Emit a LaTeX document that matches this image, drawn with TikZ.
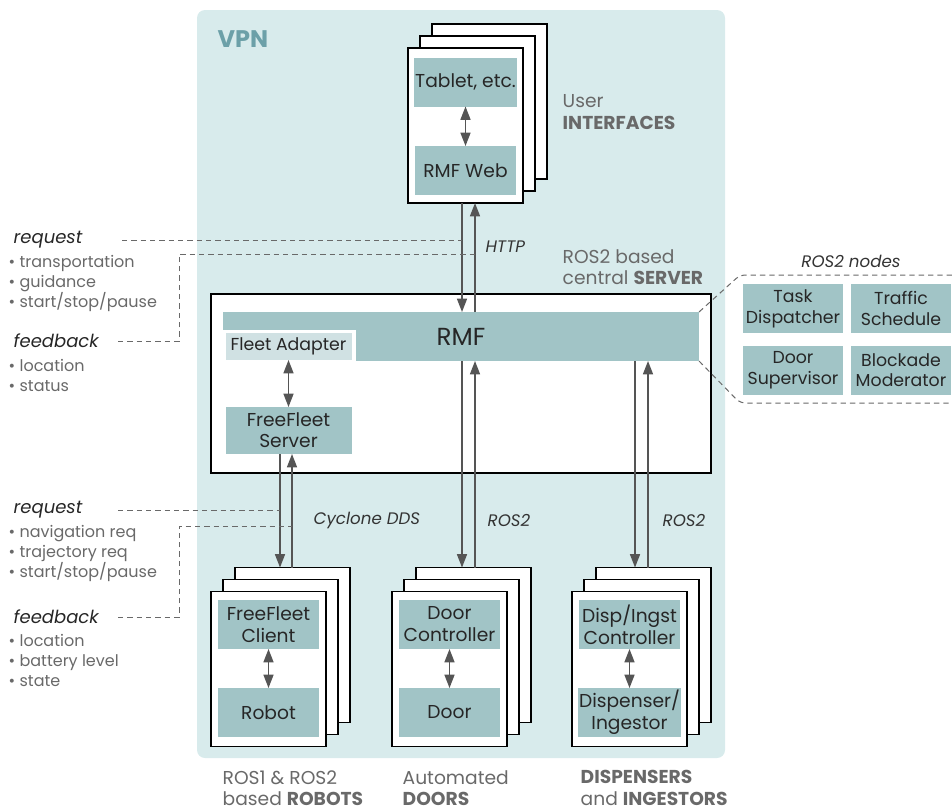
\documentclass[tikz,border=0pt]{standalone}
\usepackage{fontspec}
\setmainfont{Poppins}
\usetikzlibrary{arrows.meta}

\definecolor{vpnbg}{RGB}{216,235,236}
\definecolor{boxfill}{RGB}{161,196,198}
\definecolor{adapterfill}{RGB}{208,225,227}
\definecolor{vpntext}{RGB}{108,160,168}
\definecolor{labelgrey}{RGB}{105,105,105}
\definecolor{arrowgrey}{RGB}{85,85,85}

\tikzset{
	sheet/.style={draw=black, line width=1.1pt, fill=white, minimum width=86.25pt, minimum height=116.25pt, inner sep=0pt, outer sep=0pt},
	box/.style={fill=boxfill, minimum width=75.75pt, minimum height=36.75pt, inner sep=1pt, outer sep=0pt, align=center, text=black!85, font=\fontsize{14}{16.5}\selectfont},
	rosbox/.style={box, minimum width=75pt, font=\fontsize{13}{15.5}\selectfont},
	flow/.style={draw=arrowgrey, line width=1.1pt, >={Triangle[length=10pt,width=7.5pt]}},
	dline/.style={draw=labelgrey, line width=0.75pt, dash pattern=on 4pt off 3pt},
	lbl/.style={anchor=west, align=left, text=labelgrey, font=\fontsize{14}{16}\selectfont},
	proto/.style={anchor=west, text=black!80, font=\fontsize{12.5}{14}\selectfont\itshape},
	title/.style={anchor=west, text=black!85, font=\fontsize{13.5}{16}\selectfont\itshape},
	items/.style={anchor=west, align=left, text=labelgrey, font=\fontsize{12}{15}\selectfont},
}

\begin{document}
\begin{tikzpicture}[x=0.75pt, y=-0.75pt]
	\useasboundingbox (0,0) rectangle (952,811);

	% VPN area
	\fill [vpnbg, rounded corners=6pt] (197,10) rectangle (725,758);
	\node [anchor=west, text=vpntext, font=\fontsize{18}{20}\selectfont\bfseries] (vpn) at (213,39) {VPN};

	% user interfaces
	\foreach \i/\d in {3/24, 2/12, 1/0}
		\node [sheet] (ui\i) at (465.5+\d, 125.5-\d) {};
	\node [box] (tablet) at (465.5, 82) {Tablet, etc.};
	\node [box] (rmfweb) at (465.5, 170.5) {RMF Web};
	\draw [flow, <->] (tablet) -- (rmfweb);
	\node [lbl] (uilbl) at (558, 112) {User\\\textbf{INTERFACES}};

	% server
	\node [draw=black, line width=1.1pt, fill=white, minimum width=375pt, minimum height=134.25pt, inner sep=0pt] (server) at (461, 383.5) {};
	\node [box, minimum width=357pt, font=\fontsize{18.5}{20}\selectfont] (rmf) at (461, 336.5) {RMF};
	\fill [white] (rmf.south west) rectangle (356, 330);
	\node [box, fill=adapterfill, minimum width=94.5pt, minimum height=20.25pt, font=\fontsize{13}{15}\selectfont] (adapter) at (288.5, 346.5) {Fleet Adapter};
	\node [box, minimum width=94.5pt, minimum height=35.25pt, font=\fontsize{14}{16}\selectfont] (ffserver) at (288.5, 430.5) {FreeFleet\\Server};
	\draw [flow, <->] (adapter) -- (ffserver);
	\node [lbl] (serverlbl) at (558, 267.5) {ROS2 based\\central \textbf{SERVER}};

	\draw [flow, ->] (462,0 |- ui1.south) -- (462,0 |- rmf.north);
	\draw [flow, ->] (475,0 |- rmf.north) -- (475,0 |- ui1.south);
	\node [proto] (http) at (481, 247) {HTTP};

	% ROS2 nodes
	\node [anchor=center, text=black!80, font=\fontsize{12.5}{14}\selectfont\itshape] (rosnodes) at (851, 261) {ROS2 nodes};
	\node [rosbox] (task) at (793, 308.5) {Task\\Dispatcher};
	\node [rosbox] (traffic) at (901, 308.5) {Traffic\\Schedule};
	\node [rosbox] (doorsup) at (793, 370) {Door\\Supervisor};
	\node [rosbox] (blockade) at (901, 370) {Blockade\\Moderator};
	\draw [dline, rounded corners=4pt] (rmf.north east) -- (740, 275) -- (952, 275);
	\draw [dline, rounded corners=4pt] (rmf.south east) -- (740, 403) -- (952, 403);

	% robots, doors, dispensers
	\foreach \i/\d in {3/24, 2/12, 1/0} {
		\node [sheet] (robot\i) at (268.5+\d, 669-\d) {};
		\node [sheet] (door\i) at (449.5+\d, 669-\d) {};
		\node [sheet] (disp\i) at (629.5+\d, 669-\d) {};
	}
	\node [box] (ffclient) at (268.5, 624.5) {FreeFleet\\Client};
	\node [box] (robot) at (268.5, 712.5) {Robot};
	\node [box] (doorctrl) at (449.5, 624.5) {Door\\Controller};
	\node [box] (door) at (449.5, 712.5) {Door};
	\node [box] (dispctrl) at (629.5, 624.5) {Disp/Ingst\\Controller};
	\node [box] (dispenser) at (629.5, 712.5) {Dispenser/\\Ingestor};

	\draw [flow, <->] (ffclient) -- (robot);
	\draw [flow, <->] (doorctrl) -- (door);
	\draw [flow, <->] (dispctrl) -- (dispenser);

	\draw [flow, ->] (280,0 |- ffserver.south) -- (280,0 |- robot3.north);
	\draw [flow, ->] (292,0 |- robot3.north) -- (292,0 |- ffserver.south);
	\draw [flow, ->] (462,0 |- rmf.south) -- (462,0 |- door3.north);
	\draw [flow, ->] (475,0 |- door3.north) -- (475,0 |- rmf.south);
	\draw [flow, ->] (635,0 |- rmf.south) -- (635,0 |- disp3.north);
	\draw [flow, ->] (648,0 |- disp3.north) -- (648,0 |- rmf.south);

	\node [proto] (dds) at (309, 520) {Cyclone DDS};
	\node [proto] (ros2doors) at (483, 520) {ROS2};
	\node [proto] (ros2disp) at (658, 520) {ROS2};

	\node [lbl] (robotlbl) at (218, 788) {ROS1 \& ROS2\\based \textbf{ROBOTS}};
	\node [lbl] (doorlbl) at (398, 788) {Automated\\\textbf{DOORS}};
	\node [lbl] (displbl) at (576, 788) {\textbf{DISPENSERS}\\and \textbf{INGESTORS}};

	% left notes, server
	\node [title] (req1) at (9, 240) {request};
	\node [items] (reqlist1) at (4, 283) {• transportation\\• guidance\\• start/stop/pause};
	\node [title] (fb1) at (9, 341) {feedback};
	\node [items] (fblist1) at (4, 375) {• location\\• status};
	\draw [dline] (122,0 |- req1.east) -- (462,0 |- req1.east);
	\draw [dline] (118,0 |- fb1.east) -| (179, 254) -- (475, 254);

	% left notes, robots
	\node [title] (req2) at (9, 510) {request};
	\node [items] (reqlist2) at (4, 553) {• navigation req\\• trajectory req\\• start/stop/pause};
	\node [title] (fb2) at (9, 617) {feedback};
	\node [items] (fblist2) at (4, 660) {• location\\• battery level\\• state};
	\draw [dline] (118,0 |- req2.east) -- (280,0 |- req2.east);
	\draw [dline] (118,0 |- fb2.east) -| (179, 526) -- (292, 526);

	%\draw [help lines] (0,0) grid (952,811);
\end{tikzpicture}
\end{document}
